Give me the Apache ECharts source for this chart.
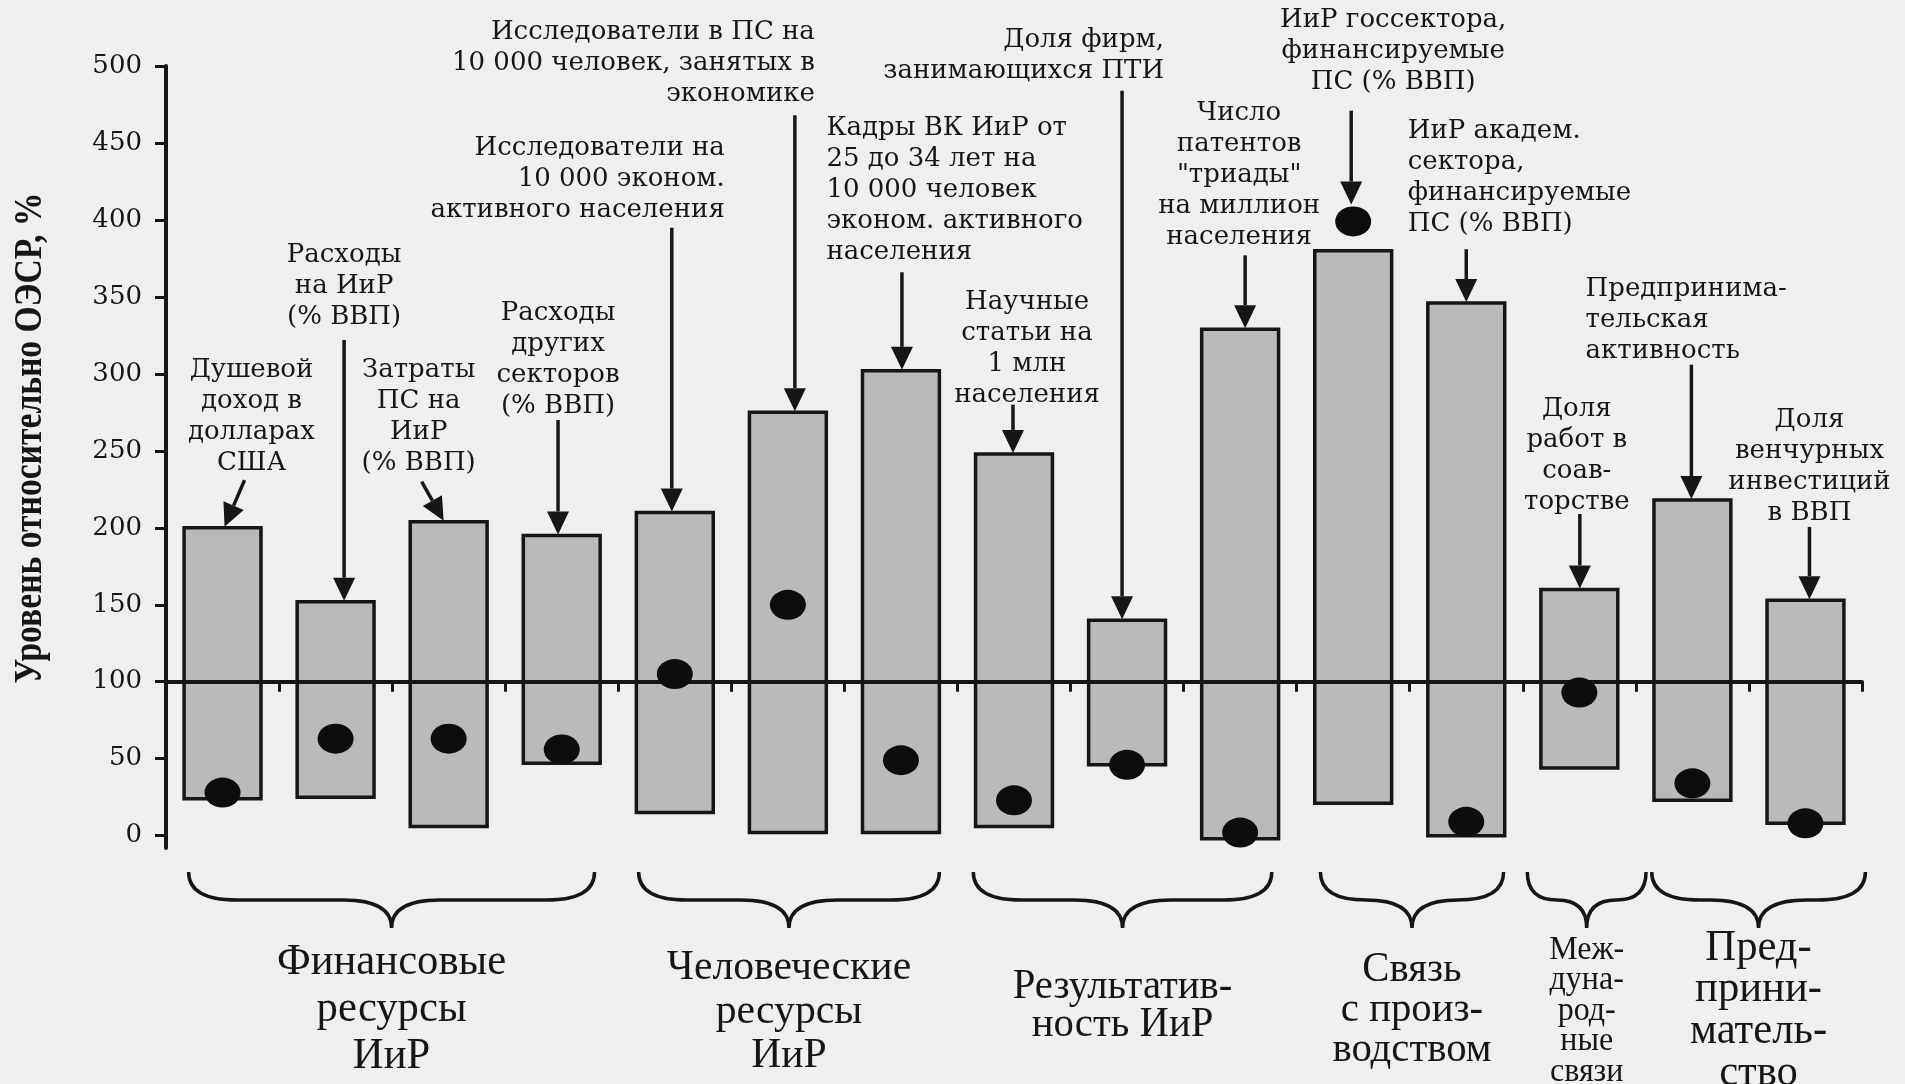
<!DOCTYPE html>
<html>
<head>
<meta charset="utf-8">
<title>Уровень относительно ОЭСР</title>
<script src="https://cdn.jsdelivr.net/npm/echarts@6.0.0/dist/echarts.min.js"></script>
<style>
  html, body { margin: 0; padding: 0; background: #efefef; }
  #chart { width: 1905px; height: 1084px; }
</style>
</head>
<body>
<div id="chart"></div>
<script>
// indicators (also used as annotation text above the bars)
var indicators = [
    'Душевой\nдоход в\nдолларах\nСША',
    'Расходы\nна ИиР\n(% ВВП)',
    'Затраты\nПС на\nИиР\n(% ВВП)',
    'Расходы\nдругих\nсекторов\n(% ВВП)',
    'Исследователи на\n10 000 эконом.\nактивного населения',
    'Исследователи в ПС на\n10 000 человек, занятых в\nэкономике',
    'Кадры ВК ИиР от\n25 до 34 лет на\n10 000 человек\nэконом. активного\nнаселения',
    'Научные\nстатьи на\n1 млн\nнаселения',
    'Доля фирм,\nзанимающихся ПТИ',
    'Число\nпатентов\n"триады"\nна миллион\nнаселения',
    'ИиР госсектора,\nфинансируемые\nПС (% ВВП)',
    'ИиР академ.\nсектора,\nфинансируемые\nПС (% ВВП)',
    'Доля\nработ в\nсоав-\nторстве',
    'Предпринима-\nтельская\nактивность',
    'Доля\nвенчурных\nинвестиций\nв ВВП'
];
var barLow = [24, 25, 6, 47, 15, 2, 2, 6, 46, -2, 21, 0, 44, 23, 8];
var barHigh = [200, 152, 204, 195, 210, 275, 302, 248, 140, 329, 380, 346, 160, 218, 153];
var dotValue = [28, 63, 63, 56, 105, 150, 49, 23, 46, 2, 399, 9, 93, 34, 8];
var yTicks = [0, 50, 100, 150, 200, 250, 300, 350, 400, 450, 500];
var groupNames = [
    'Финансовые\nресурсы\nИиР',
    'Человеческие\nресурсы\nИиР',
    'Результатив-\nность ИиР',
    'Связь\nс произ-\nводством',
    'Меж-\nдуна-\nрод-\nные\nсвязи',
    'Пред-\nприни-\nматель-\nство'
];
var groupFirst = [0, 4, 7, 10, 12, 13];
var groupLast = [3, 6, 9, 11, 12, 14];

var yMin = -8, yMax = 500, baseLevel = 100;
var gridTop = 66, gridBottom = 236;

// where each note sits: text dx (px), align, first line (value),
// arrow start dx / value, arrow end dx, arrow target
var noteLayout = [
    { tx: 29, align: 'center', ty: 302.6, ax0: 22, ay0: 231, ax1: 2, to: 'top' },
    { tx: 8.5, align: 'center', ty: 377, ax0: 8.5, ay0: 322, ax1: 8.5, to: 'top' },
    { tx: -30, align: 'center', ty: 302.6, ax0: -27, ay0: 230, ax1: -5, to: 'top' },
    { tx: -3.7, align: 'center', ty: 339.6, ax0: -3.7, ay0: 270, ax1: -3.7, to: 'top' },
    { tx: 50, align: 'right', ty: 446.8, ax0: -3, ay0: 395, ax1: -3, to: 'top' },
    { tx: 27, align: 'right', ty: 522, ax0: 7, ay0: 468, ax1: 7, to: 'top' },
    { tx: -74.5, align: 'left', ty: 459.7, ax0: 1, ay0: 366, ax1: 1, to: 'top' },
    { tx: 13, align: 'center', ty: 346.8, ax0: -1, ay0: 280, ax1: -1, to: 'top' },
    { tx: 37, align: 'right', ty: 517, ax0: -5, ay0: 484, ax1: -5, to: 'top' },
    { tx: -1, align: 'center', ty: 469, ax0: 5, ay0: 377, ax1: 5, to: 'top' },
    { tx: 40, align: 'center', ty: 530, ax0: -2, ay0: 471, ax1: -2, to: 'dot' },
    { tx: -58.5, align: 'left', ty: 457.8, ax0: 0, ay0: 381, ax1: 0, to: 'top' },
    { tx: -2.5, align: 'center', ty: 277, ax0: 0.5, ay0: 209, ax1: 0.5, to: 'top' },
    { tx: -106.8, align: 'left', ty: 355, ax0: -1, ay0: 306, ax1: -1, to: 'top' },
    { tx: 4, align: 'center', ty: 270, ax0: 4, ay0: 200.6, ax1: 4, to: 'top' }
];

// brace extents in bands, label first-line offset below the plot, line height, font size
var braceLayout = [
    { d0: -0.30, d1: 0.29, ly: 114, lh: 47, fs: 44 },
    { d0: -0.32, d1: 0.34, ly: 120, lh: 44, fs: 43 },
    { d0: -0.36, d1: 0.28, ly: 139, lh: 38, fs: 42 },
    { d0: -0.29, d1: 0.33, ly: 122, lh: 40, fs: 42 },
    { d0: -0.46, d1: 0.59, ly: 102, lh: 30.5, fs: 33 },
    { d0: -0.36, d1: 0.53, ly: 100, lh: 41.7, fs: 44 }
];

var ink = '#161616';
var serif = '"DejaVu Serif", "Liberation Serif", serif';

var chart = echarts.init(document.getElementById('chart'));
var gridHeight = 1084 - gridTop - gridBottom;
var baseOffset = -(baseLevel - yMin) / (yMax - yMin) * gridHeight;

function renderBar(params, api) {
    var i = api.value(0);
    var lo = api.coord([i, api.value(1)]);
    var hi = api.coord([i, api.value(2)]);
    var w = api.size([1, 0])[0] * 0.68;
    return {
        type: 'rect',
        shape: { x: lo[0] - w / 2, y: hi[1], width: w, height: lo[1] - hi[1] },
        style: { fill: '#bababa', stroke: ink, lineWidth: 3.5 }
    };
}

function renderNote(params, api) {
    var i = params.dataIndex;
    var L = noteLayout[i];
    var cx = api.coord([i, 0])[0];
    var lh = 31;
    var ty = api.coord([i, L.ty])[1] - lh / 2;
    var x0 = cx + L.ax0, y0 = api.coord([i, L.ay0])[1];
    var x1 = cx + L.ax1, y1;
    if (L.to === 'dot') {
        y1 = api.coord([i, dotValue[i]])[1] - 17;
    } else {
        y1 = api.coord([i, barHigh[i]])[1] - 1;
    }
    var ang = Math.atan2(y1 - y0, x1 - x0);
    var hl = 23, hw = 11;
    var bx = x1 - hl * Math.cos(ang), by = y1 - hl * Math.sin(ang);
    var px = -Math.sin(ang), py = Math.cos(ang);
    return {
        type: 'group',
        children: [{
            type: 'text',
            style: {
                text: indicators[i], x: cx + L.tx, y: ty,
                align: L.align, verticalAlign: 'top', lineHeight: lh,
                fontFamily: serif, fontSize: 26, fill: ink
            }
        }, {
            type: 'line',
            shape: { x1: x0, y1: y0, x2: bx, y2: by },
            style: { stroke: ink, lineWidth: 3.5 }
        }, {
            type: 'polygon',
            shape: { points: [[x1, y1], [bx + px * hw, by + py * hw], [bx - px * hw, by - py * hw]] },
            style: { fill: ink }
        }]
    };
}

function renderBrace(params, api) {
    var g = params.dataIndex;
    var B = braceLayout[g];
    var band = api.size([1, 0])[0];
    var base = api.coord([groupFirst[g], yMin])[1];
    var xa = api.coord([groupFirst[g], 0])[0] + B.d0 * band;
    var xb = api.coord([groupLast[g], 0])[0] + B.d1 * band;
    var xm = (xa + xb) / 2;
    var y0 = base + 24, y1 = base + 52, y2 = base + 80;
    var r = Math.min(48, (xm - xa) / 2);
    var d = 'M' + xa + ' ' + y0 +
        ' Q' + xa + ' ' + y1 + ' ' + (xa + r) + ' ' + y1 +
        ' L' + (xm - r) + ' ' + y1 +
        ' Q' + xm + ' ' + y1 + ' ' + xm + ' ' + y2 +
        ' Q' + xm + ' ' + y1 + ' ' + (xm + r) + ' ' + y1 +
        ' L' + (xb - r) + ' ' + y1 +
        ' Q' + xb + ' ' + y1 + ' ' + xb + ' ' + y0;
    return {
        type: 'group',
        children: [{
            type: 'path',
            shape: { pathData: d },
            style: { fill: null, stroke: ink, lineWidth: 3.5 }
        }, {
            type: 'text',
            scaleX: 0.97,
            x: xm,
            y: base + B.ly - B.lh / 2,
            style: {
                text: groupNames[g], x: 0, y: 0,
                align: 'center', verticalAlign: 'top', lineHeight: B.lh,
                fontFamily: '"Liberation Serif", serif', fontSize: B.fs, fill: ink
            }
        }]
    };
}

var option = {
    backgroundColor: '#efefef',
    animation: false,
    grid: { left: 166, right: 43, top: gridTop, bottom: gridBottom, containLabel: false },
    xAxis: {
        type: 'category',
        data: indicators.map(function (s) { return s.replace(/\n/g, ' '); }),
        offset: baseOffset,
        z: 5,
        axisLine: { lineStyle: { color: ink, width: 4 } },
        axisTick: { show: true, interval: 0, length: 10, lineStyle: { color: ink, width: 3 } },
        axisLabel: { show: false, interval: 0 },
        splitLine: { show: false }
    },
    yAxis: {
        type: 'value',
        min: yMin,
        max: yMax,
        z: 5,
        axisLine: { show: true, lineStyle: { color: ink, width: 4 } },
        axisTick: { show: true, length: 11, customValues: yTicks, lineStyle: { color: ink, width: 3 } },
        axisLabel: {
            customValues: yTicks, margin: 24,
            fontFamily: serif, fontSize: 26, color: ink
        },
        splitLine: { show: false }
    },
    graphic: [{
        type: 'text',
        x: 31, y: 438,
        rotation: Math.PI / 2,
        scaleX: 0.84,
        style: {
            text: 'Уровень относительно ОЭСР, %',
            align: 'center', verticalAlign: 'middle',
            fontFamily: '"Liberation Serif", serif',
            fontWeight: 'bold', fontSize: 40, fill: ink
        }
    }],
    series: [{
        type: 'custom',
        name: 'Диапазон',
        renderItem: renderBar,
        encode: { x: 0, y: [1, 2] },
        data: barLow.map(function (v, i) { return [i, v, barHigh[i]]; }),
        z: 2,
        clip: false
    }, {
        type: 'scatter',
        name: 'Значение',
        data: dotValue.map(function (v, i) { return [i, v]; }),
        symbol: 'circle',
        symbolSize: [36, 30],
        itemStyle: { color: '#0d0d0d', opacity: 1 },
        z: 8
    }, {
        type: 'custom',
        name: 'Подписи',
        renderItem: renderNote,
        encode: { x: 0, y: 1 },
        data: barHigh.map(function (v, i) { return [i, v]; }),
        z: 9,
        clip: false
    }, {
        type: 'custom',
        name: 'Группы',
        renderItem: renderBrace,
        encode: { x: 0, y: 1 },
        data: groupFirst.map(function (v) { return [v, 0]; }),
        z: 9,
        clip: false
    }]
};

chart.setOption(option);
</script>
</body>
</html>
